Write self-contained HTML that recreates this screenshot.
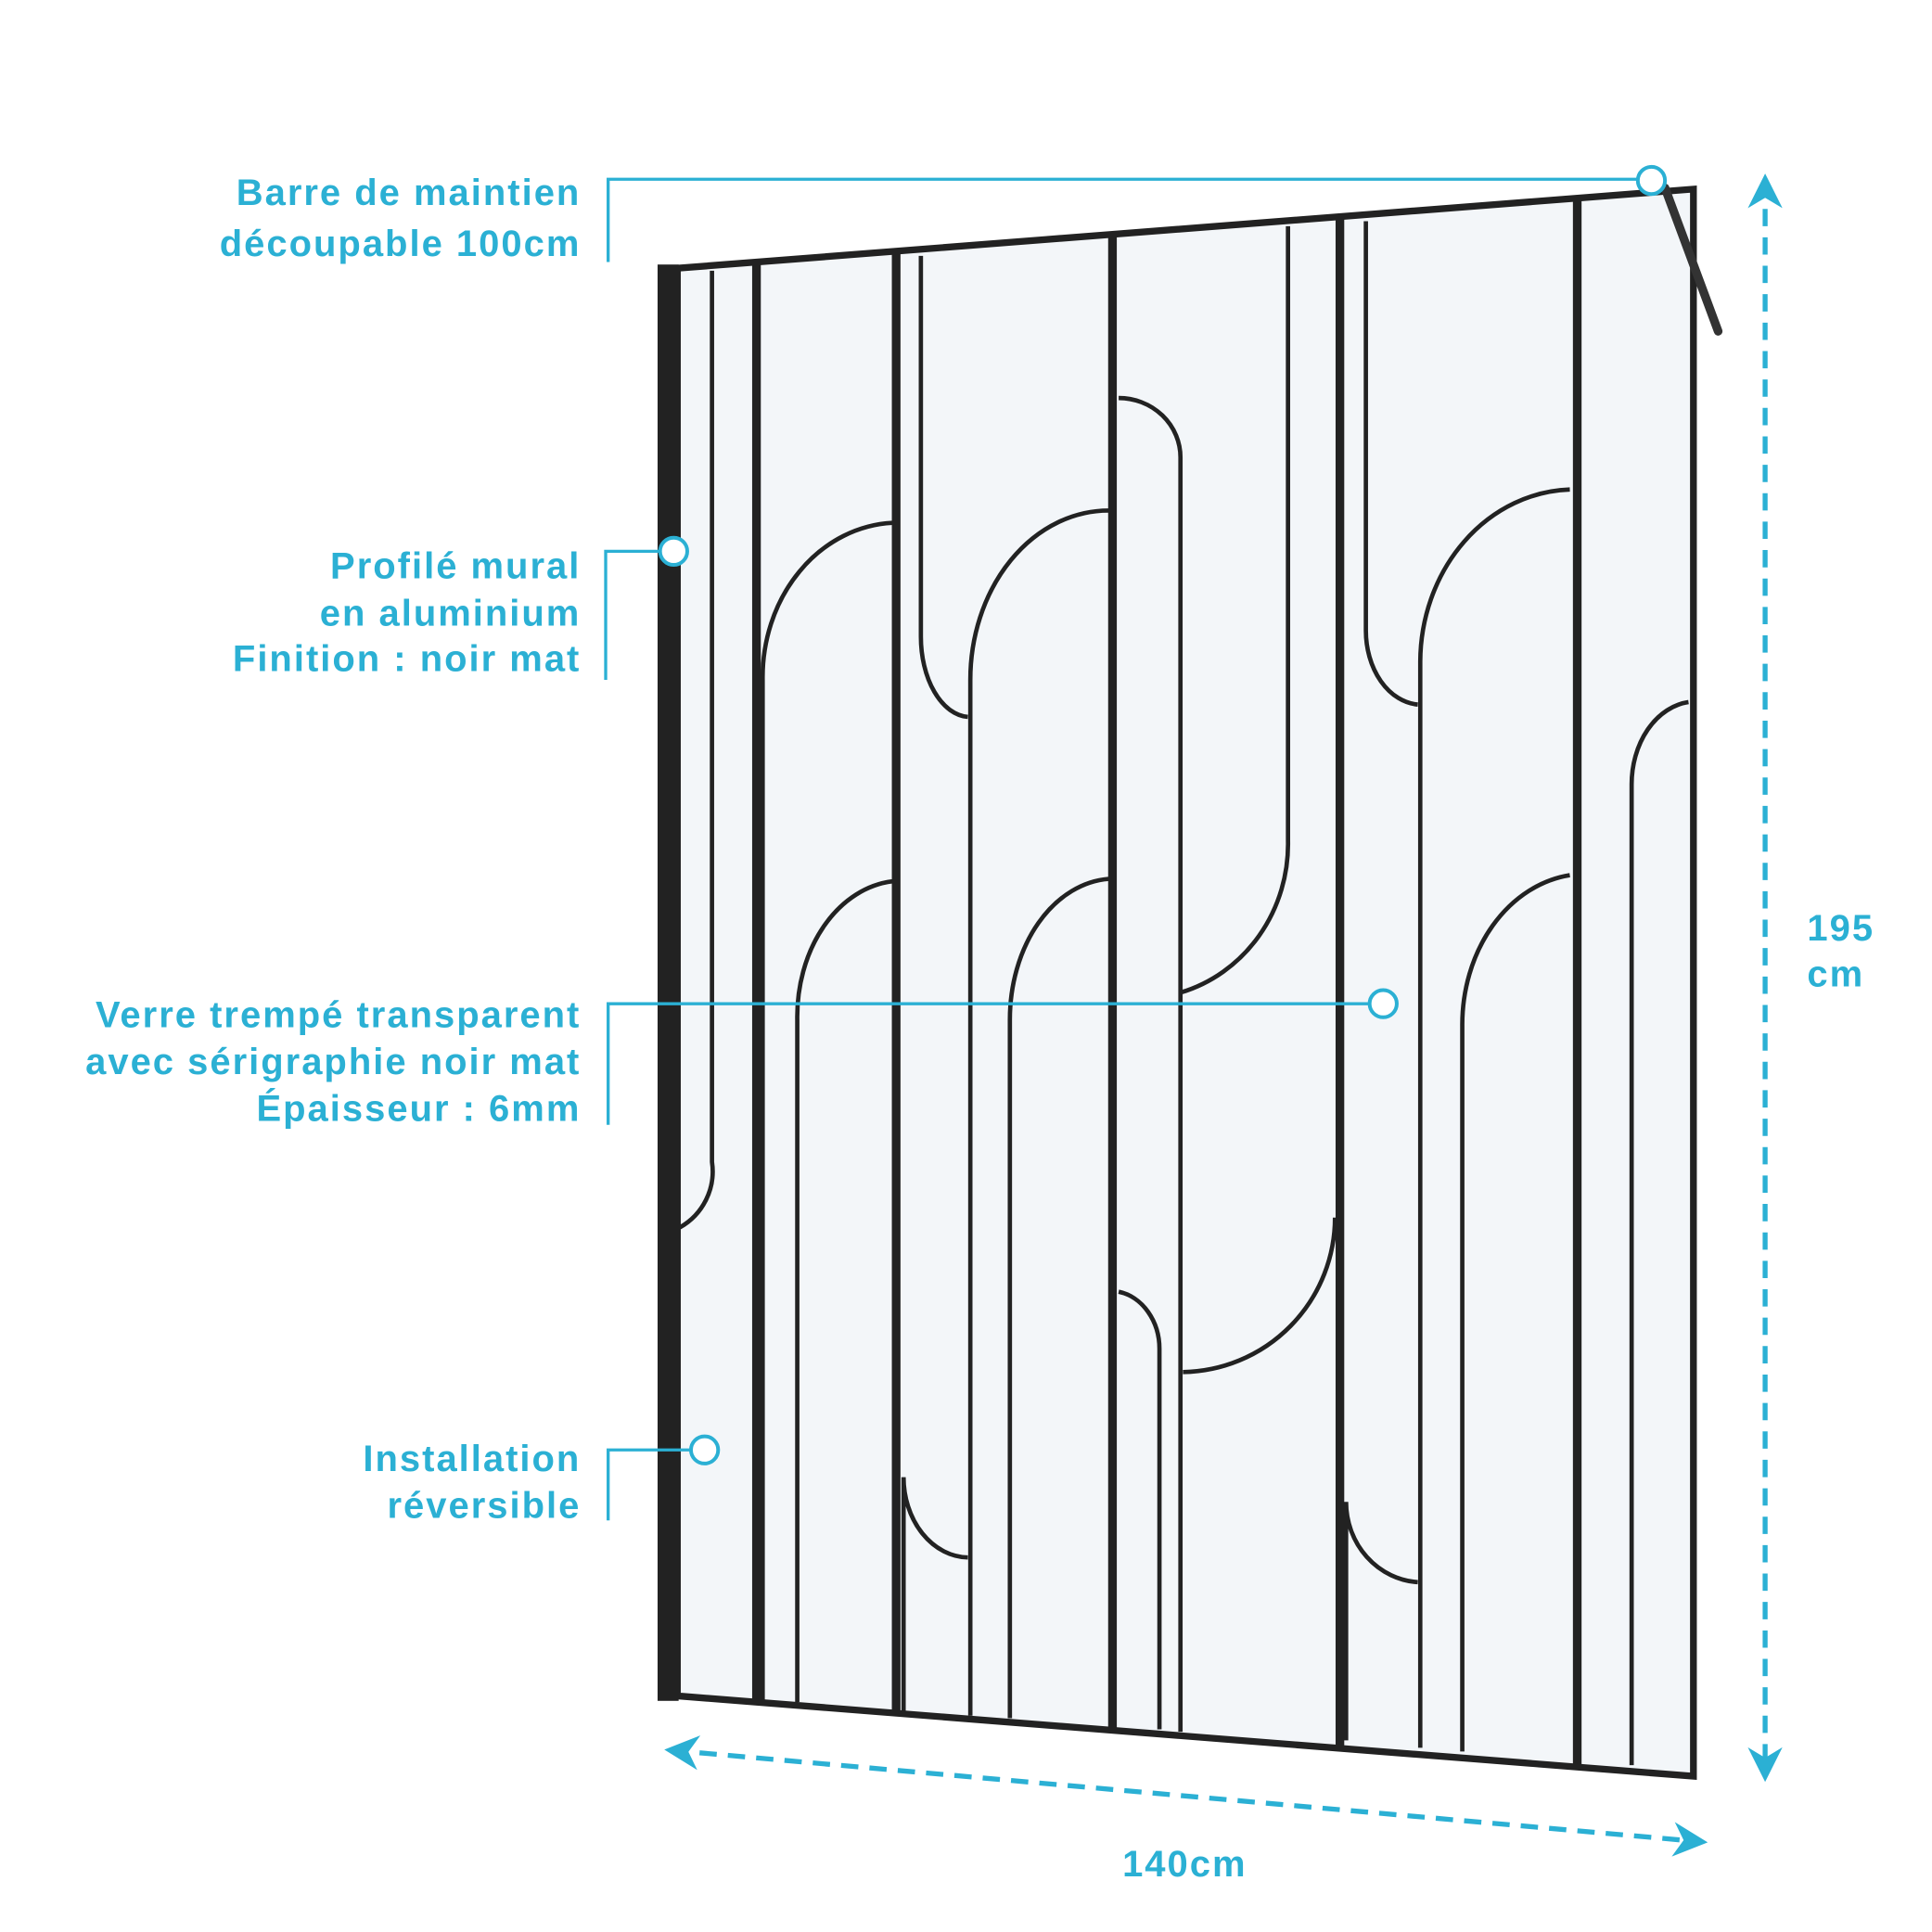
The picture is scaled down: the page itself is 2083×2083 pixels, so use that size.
<!DOCTYPE html>
<html><head><meta charset="utf-8"><style>
html,body{margin:0;padding:0;background:#fff;}
svg{display:block;}
text{font-family:"Liberation Sans",sans-serif;fill:#2bb0d4;font-size:30px;letter-spacing:1.5px;font-weight:bold;}
</style></head><body>
<svg width="2083" height="2083" viewBox="0 0 1563 1563" xmlns="http://www.w3.org/2000/svg">
<defs>
<marker id="ah" viewBox="0 0 10 10" refX="8" refY="5" markerWidth="7" markerHeight="7" orient="auto-start-reverse"><path d="M0,0 L10,5 L0,10 L3,5 z" fill="#2bb0d4"/></marker>
</defs>
<polygon points="548,217 1370,153 1370,1437 548,1372" fill="#f3f6f9"/>
<g fill="none" stroke="#222" stroke-width="3.5">
<path d="M576,219 V940 A52,52 0 0 1 550,993"/>
<path d="M722,423 A110,125 0 0 0 617,550 V1375"/>
<path d="M722,713 A85,110 0 0 0 645,825 V1377"/>
<path d="M745,207 V515 A40,65 0 0 0 783,580"/>
<path d="M897,413 A112,137 0 0 0 785,550 V1388"/>
<path d="M731,1384 V1195 A53,65 0 0 0 783,1260"/>
<path d="M897,711 A85,114 0 0 0 817,825 V1390"/>
<path d="M905,322 A50,48 0 0 1 955,370 V1401"/>
<path d="M1042,183 V680 A120,125 0 0 1 955,803"/>
<path d="M1080,985 A125,125 0 0 1 957,1110"/>
<path d="M905,1045 A40,47 0 0 1 938,1092 V1399"/>
<path d="M1105,179 V510 A45,60 0 0 0 1147,570"/>
<path d="M1270,396 A125,140 0 0 0 1149,535 V1414"/>
<path d="M1089,1408 V1215 A62,65 0 0 0 1147,1280"/>
<path d="M1270,708 A100,122 0 0 0 1183,830 V1417"/>
<path d="M1366,568 A52,67 0 0 0 1320,635 V1428"/>
</g>
<g stroke="#222" stroke-width="7" fill="none">
<line x1="612" y1="212" x2="612" y2="1377"/>
<line x1="725" y1="204" x2="725" y2="1386"/>
<line x1="900" y1="190" x2="900" y2="1400"/>
<line x1="1084" y1="176" x2="1084" y2="1414"/>
<line x1="1276" y1="161" x2="1276" y2="1429"/>
<polygon points="548,217 1370,153 1370,1437 548,1372" stroke-width="5.5"/>
</g>
<rect x="532" y="214" width="17" height="1162" fill="#222"/>
<line x1="1347" y1="152" x2="1390" y2="268" stroke="#333" stroke-width="7" stroke-linecap="round"/>
<g stroke="#2bb0d4" stroke-width="2.5" fill="none">
<path d="M492,212 V145 H1325"/>
<path d="M490,550 V446 H534"/>
<path d="M492,910 V812 H1107"/>
<path d="M492,1230 V1173 H558"/>
</g>
<g stroke="#2bb0d4" stroke-width="3" fill="#fff">
<circle cx="1336" cy="146" r="11"/>
<circle cx="545" cy="446" r="11"/>
<circle cx="1119" cy="812" r="11"/>
<circle cx="570" cy="1173" r="11"/>
</g>
<g stroke="#2bb0d4" stroke-width="4" stroke-dasharray="14,9" fill="none">
<line x1="1428" y1="146" x2="1428" y2="1436" marker-start="url(#ah)" marker-end="url(#ah)"/>
<line x1="543" y1="1416" x2="1376" y2="1490" marker-start="url(#ah)" marker-end="url(#ah)"/>
</g>
<g text-anchor="end">
<text x="470" y="166">Barre de maintien</text>
<text x="470" y="207">découpable 100cm</text>
<text x="470" y="468">Profilé mural</text>
<text x="470" y="506">en aluminium</text>
<text x="470" y="543">Finition : noir mat</text>
<text x="470" y="831">Verre trempé transparent</text>
<text x="470" y="869">avec sérigraphie noir mat</text>
<text x="470" y="907">Épaisseur : 6mm</text>
<text x="470" y="1190">Installation</text>
<text x="470" y="1228">réversible</text>
</g>
<text x="1462" y="761">195</text>
<text x="1462" y="798">cm</text>
<text x="908" y="1518">140cm</text>
</svg>
</body></html>
